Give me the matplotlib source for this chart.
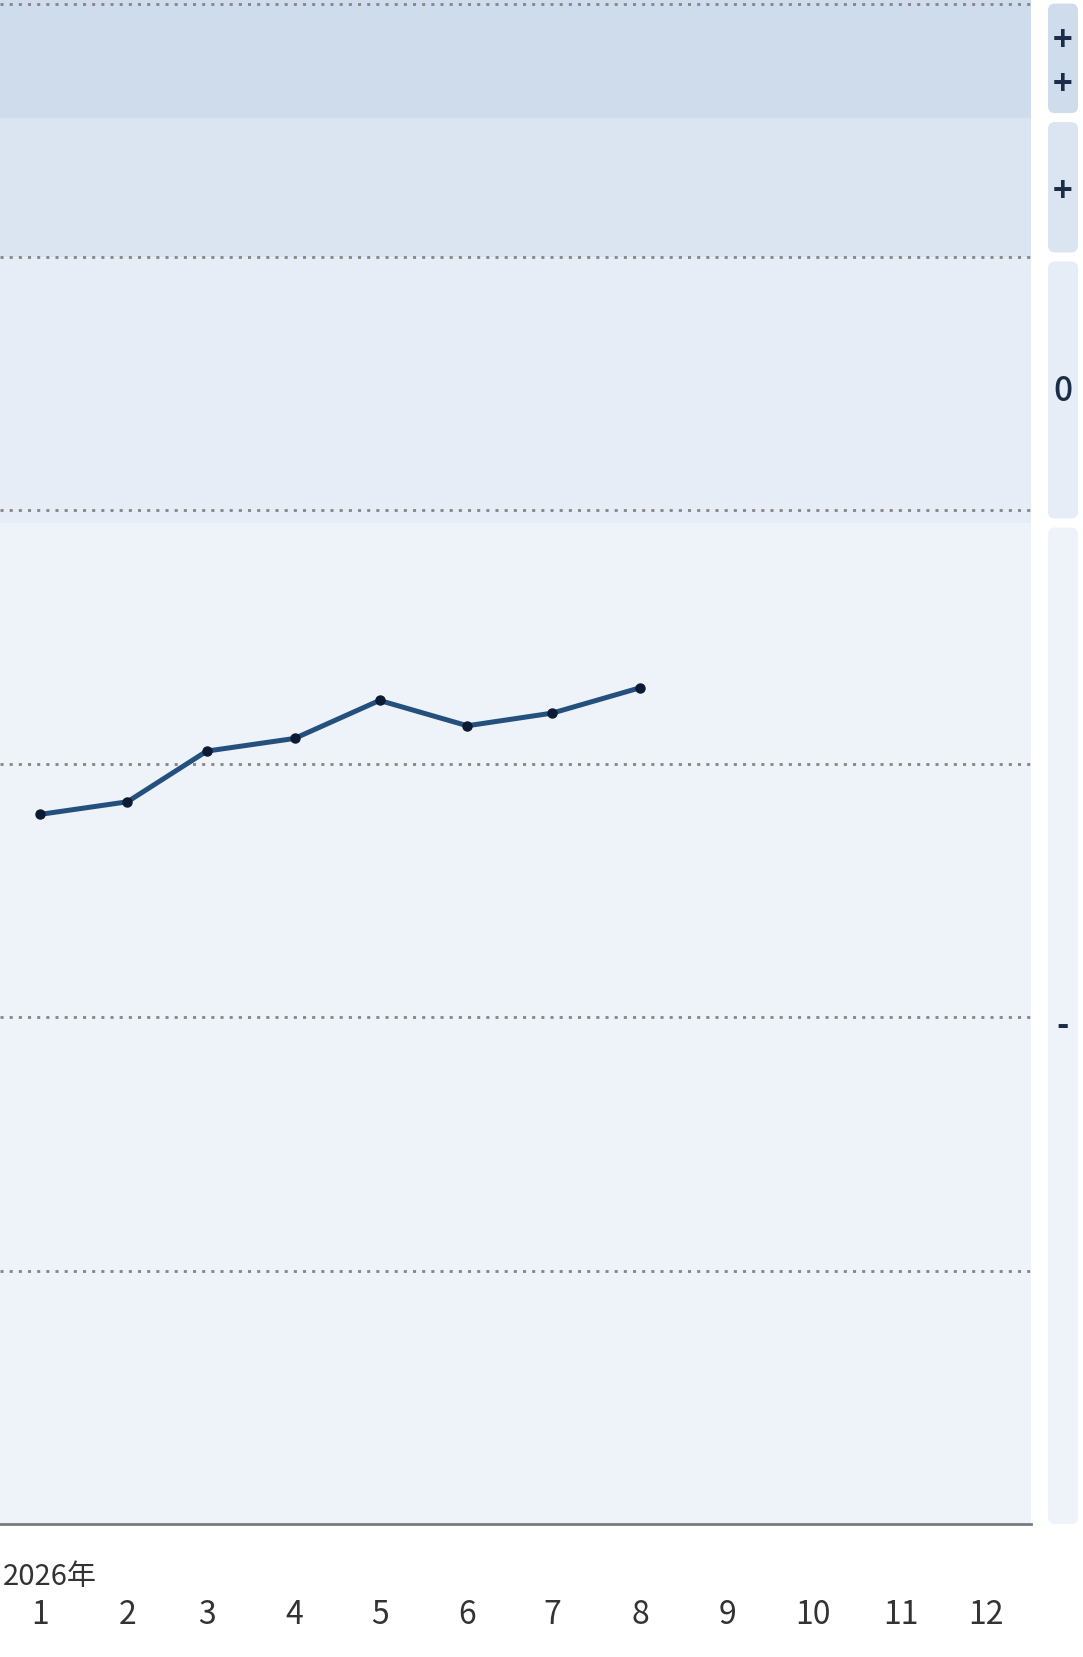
import matplotlib
matplotlib.use('Agg')
import matplotlib.pyplot as plt
from matplotlib.patches import FancyBboxPatch
import datetime as dt

plt.rcParams['font.family'] = ['Noto Sans CJK JP', 'DejaVu Sans']

# ---- data ----
year_label = "2026年"
months = [dt.date(2026, m, 1) for m in range(1, 13)]
month_labels = [str(m) for m in range(1, 13)]
values = [2.80, 2.85, 3.05, 3.10, 3.25, 3.15, 3.20, 3.30]
grid_levels = [1, 2, 3, 4, 5, 6]
y_top = 6.018
band_edges = [0, 3.95, 5.0, 5.55, y_top]        # bottom -> top
band_colors = ['#EEF2F9', '#E6EDF7', '#DBE5F1', '#CFDCEC']
panel_edges = [0, 3.95, 5.0, 5.55, 6.0]
panel_labels = ['-', '0', '+', '+\n+']
x_start = dt.date(2025, 12, 18)
x_end = dt.date(2026, 12, 17)

W, H = 1083, 1658
fig = plt.figure(figsize=(W / 100, H / 100), dpi=100)
fig.patch.set_facecolor('white')
ax = fig.add_axes([0, 133 / H, 1031 / W, 1525 / H])
ax.set_xlim(x_start, x_end)
ax.set_ylim(0, y_top)

for i, c in enumerate(band_colors):
    ax.axhspan(band_edges[i], band_edges[i + 1], color=c, lw=0, zorder=0)

for g in grid_levels:
    ax.axhline(g, color='#858585', lw=2.0, linestyle=(0, (1.1, 2.2)), zorder=1)

ax.plot(months[:len(values)], values, color='#24507E', lw=3.6,
        marker='o', ms=6.5, mfc='#0B1B33', mec='#0B1B33', zorder=5,
        solid_joinstyle='round')

ax.set_yticks([])
ax.set_xticks(months)
ax.set_xticklabels(month_labels, fontsize=23, color='#333333')
ax.tick_params(axis='x', length=0, pad=53)
for s in ['left', 'right', 'top']:
    ax.spines[s].set_visible(False)
ax.spines['bottom'].set_color('#7a7a7a')
ax.spines['bottom'].set_linewidth(2)
ax.spines['bottom'].set_zorder(6)

fig.text(3 / W, (H - 1585) / H, year_label, fontsize=21, color='#333333',
         va='baseline', ha='left')

# ---- right side indicator panels ----
ov = fig.add_axes([0, 0, 1, 1], zorder=10)
ov.set_xlim(0, W)
ov.set_ylim(0, H)
ov.axis('off')
ov.patch.set_alpha(0)

px0, px1 = 1048, 1078
gap = 4.5
n = len(panel_labels)
for i in range(n):
    yb = ax.transData.transform((0, panel_edges[i]))[1]
    yt = ax.transData.transform((0, panel_edges[i + 1]))[1]
    if i > 0:
        yb += gap
    if i < n - 1:
        yt -= gap
    ov.add_patch(FancyBboxPatch((px0, yb), px1 - px0, yt - yb,
                                boxstyle='round,pad=0,rounding_size=7',
                                facecolor=band_colors[i], edgecolor='none'))
    lab = panel_labels[i]
    ov.text((px0 + px1) / 2, (yb + yt) / 2 - (4 if '+' in lab else 0), lab,
            fontsize=24, color='#1A2D48', ha='center', va='center',
            linespacing=1.4,
            fontweight='medium' if lab == '0' else 'bold')

fig.savefig('out.png', dpi=100)
